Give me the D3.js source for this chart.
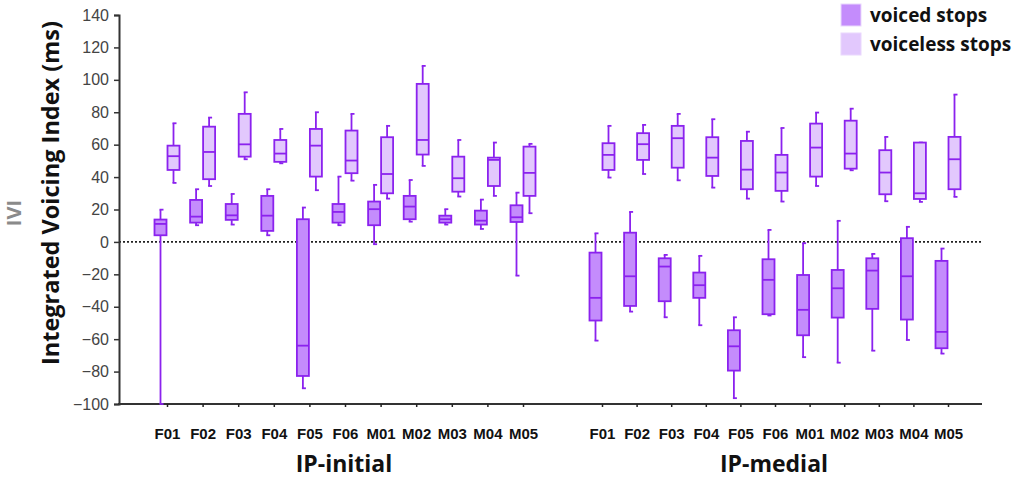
<!DOCTYPE html>
<html>
<head>
<meta charset="utf-8">
<script src="https://cdn.jsdelivr.net/npm/d3@7"></script>
<style>
    body { margin: 0; background: #fff; }
    svg { display: block; }
</style>
</head>
<body>
<svg id="chart" width="1019" height="480"></svg>
<script>
// speakers (same order in both groups)
const speakers = ["F01", "F02", "F03", "F04", "F05", "F06", "M01", "M02", "M03", "M04", "M05"];
const yTicks = [-100, -80, -60, -40, -20, 0, 20, 40, 60, 80, 100, 120, 140];

// [whisker low, q1, median, q3, whisker high] in ms
const initialVoiced = [
    [-100, 4.1, 11.1, 13.8, 19.9],
    [10.3, 11.9, 15.6, 25.9, 32.5],
    [10.7, 13.6, 16.4, 23.4, 29.6],
    [4.1, 6.8, 16.2, 28.4, 32.5],
    [-90.3, -82.7, -64, 14, 21.2],
    [10.3, 11.9, 18.5, 23.4, 40.3],
    [-1.4, 10.3, 20.2, 24.9, 35.2],
    [12.5, 14, 21.8, 28.4, 38.2],
    [10.7, 11.9, 14, 16.2, 20.2],
    [8, 10.7, 13.1, 19.3, 26.1],
    [-20.8, 12.3, 15.2, 22.6, 30.4]
];
const initialVoiceless = [
    [36.4, 44.4, 52.9, 59.4, 73.2],
    [34.5, 38.7, 55.5, 71.1, 76.7],
    [51, 52.6, 60.2, 79, 92.3],
    [48.5, 49.4, 54.5, 62.9, 69.7],
    [31.9, 40.3, 59.4, 69.7, 80],
    [37.8, 42.4, 50.2, 68.7, 79],
    [26.7, 30, 41.9, 64.6, 71.6],
    [46.9, 53.9, 62.9, 97.5, 108.6],
    [28, 31, 39.3, 52.6, 62.9],
    [28.4, 34.5, 50.6, 52, 61.3],
    [17.7, 28.4, 42.6, 58.8, 60.5]
];
const medialVoiced = [
    [-60.9, -48.5, -34.5, -6.6, 5.3],
    [-43, -39.5, -21.2, 5.7, 18.5],
    [-46.5, -36.6, -15.2, -10.1, -8],
    [-51.4, -34.5, -26.7, -18.9, -8.6],
    [-96.4, -79.4, -64.4, -54.5, -46.5],
    [-45.4, -44.6, -23.4, -10.7, 7.4],
    [-71.1, -57.6, -41.9, -20.4, -0.8],
    [-74.5, -46.7, -28.6, -17.3, 13],
    [-67.1, -41.3, -17.7, -10.1, -7.4],
    [-60.5, -47.9, -21.2, 2.3, 9.3],
    [-68.9, -65.6, -55.5, -11.7, -4.1]
];
const medialVoiceless = [
    [39.7, 44.4, 53.7, 60.9, 71.6],
    [41.9, 50.6, 60.3, 67.1, 72.2],
    [38, 45.8, 64, 71.6, 79],
    [33.5, 40.7, 52, 64.6, 75.7],
    [26.7, 32.5, 44.6, 62.3, 68],
    [24.9, 31.5, 42.8, 53.7, 70.3],
    [34.5, 40.3, 58.2, 73, 79.8],
    [44.2, 45.2, 54.5, 74.8, 82.2],
    [25.1, 29.4, 42.8, 56.6, 64.8],
    [24.7, 26.5, 30, 61.3, 61.3],
    [27.8, 32.5, 51, 64.8, 90.9]
];
const seriesNames = ["voiced stops", "voiceless stops"];
const groupNames = ["IP-initial", "IP-medial"];

const STROKE = "#8b22ee";
const FILLS = {"voiced stops": "#c48cfc", "voiceless stops": "#e2c8fd"};
const BOLD_FONT = "'Open Sans', sans-serif";
const TICK_FONT = "Arial, 'Liberation Sans', sans-serif";

const svg = d3.select("#chart");
const plotLeft = 119, plotRight = 982, plotTop = 15, plotBottom = 404;

const y = d3.scaleLinear().domain([-100, 140]).range([plotBottom, plotTop]);

const groups = [
    {name: groupNames[0], x: d3.scalePoint().domain(speakers).range([167, 523]), voiced: initialVoiced, voiceless: initialVoiceless},
    {name: groupNames[1], x: d3.scalePoint().domain(speakers).range([602, 948]), voiced: medialVoiced, voiceless: medialVoiceless}
];
// voiced box left of the tick, voiceless right of it
const sub = d3.scaleBand().domain(seriesNames).range([-13, 13]);

// zero reference line
svg.append("line")
    .attr("x1", plotLeft).attr("x2", plotRight)
    .attr("y1", y(0)).attr("y2", y(0))
    .attr("stroke", "#222")
    .attr("stroke-width", 1.6)
    .attr("stroke-dasharray", "2,2");

// y axis
const yAxis = svg.append("g")
    .attr("transform", `translate(${plotLeft},0)`)
    .call(d3.axisLeft(y).tickValues(yTicks).tickSize(5).tickPadding(5));
yAxis.select(".domain").attr("stroke", "#333").attr("stroke-width", 2);
yAxis.selectAll(".tick line").attr("stroke", "#333").attr("stroke-width", 1.5);
yAxis.selectAll(".tick text")
    .style("font-family", TICK_FONT)
    .style("font-size", "16px")
    .attr("fill", "#444");

// x baseline
svg.append("line")
    .attr("x1", plotLeft - 1).attr("x2", plotRight)
    .attr("y1", plotBottom).attr("y2", plotBottom)
    .attr("stroke", "#333")
    .attr("stroke-width", 2.2);

function drawBox(g, cx, w, stats, fill) {
    const [lo, q1, med, q3, hi] = stats;
    const mid = cx + w / 2;
    // whiskers
    [[lo, q1], [q3, hi]].forEach(([a, b]) => {
        g.append("line")
            .attr("x1", mid).attr("x2", mid)
            .attr("y1", y(a)).attr("y2", y(b))
            .attr("stroke", STROKE).attr("stroke-width", 1.8);
    });
    [lo, hi].forEach(v => {
        g.append("line")
            .attr("x1", mid - 1).attr("x2", mid + 3)
            .attr("y1", y(v)).attr("y2", y(v))
            .attr("stroke", STROKE).attr("stroke-width", 1.8);
    });
    g.append("rect")
        .attr("x", cx + 0.5).attr("width", w - 1)
        .attr("y", y(q3)).attr("height", y(q1) - y(q3))
        .attr("fill", fill)
        .attr("stroke", STROKE).attr("stroke-width", 1.8);
    g.append("line")
        .attr("x1", cx + 0.5).attr("x2", cx + w - 0.5)
        .attr("y1", y(med)).attr("y2", y(med))
        .attr("stroke", STROKE).attr("stroke-width", 1.8);
}

groups.forEach(grp => {
    const g = svg.append("g");
    speakers.forEach((s, i) => {
        const cx = grp.x(s);
        drawBox(g, cx + sub(seriesNames[0]), sub.bandwidth(), grp.voiced[i], FILLS[seriesNames[0]]);
        drawBox(g, cx + sub(seriesNames[1]), sub.bandwidth(), grp.voiceless[i], FILLS[seriesNames[1]]);
    });

    // x axis ticks + labels
    const xAxis = svg.append("g")
        .attr("transform", `translate(0,${plotBottom})`)
        .call(d3.axisBottom(grp.x).tickSize(3).tickPadding(21));
    xAxis.select(".domain").remove();
    xAxis.selectAll(".tick line").attr("stroke", "#222").attr("stroke-width", 1.5);
    xAxis.selectAll(".tick text")
        .style("font-family", TICK_FONT)
        .style("font-size", "15px")
        .style("font-weight", "bold")
        .attr("fill", "#111");

    const [r0, r1] = grp.x.range();
    svg.append("text")
        .attr("x", (r0 + r1) / 2 - 1)
        .attr("y", 472)
        .attr("text-anchor", "middle")
        .style("font-family", BOLD_FONT)
        .style("font-size", "23px")
        .style("font-weight", "bold")
        .attr("fill", "#111")
        .text(grp.name);
});

// y titles
svg.append("text")
    .attr("transform", `translate(59,193) rotate(-90)`)
    .attr("text-anchor", "middle")
    .style("font-family", BOLD_FONT)
    .style("font-size", "23.5px")
    .style("font-weight", "bold")
    .attr("fill", "#111")
    .text("Integrated Voicing Index (ms)");
svg.append("text")
    .attr("transform", `translate(21,213) rotate(-90)`)
    .attr("text-anchor", "middle")
    .style("font-family", BOLD_FONT)
    .style("font-size", "20px")
    .style("font-weight", "bold")
    .attr("fill", "#8a8a8a")
    .text("IVI");

// legend
const legend = svg.append("g").attr("transform", "translate(841,4)");
seriesNames.forEach((name, i) => {
    legend.append("rect")
        .attr("x", 0).attr("y", i * 29)
        .attr("width", 20).attr("height", 22)
        .attr("fill", FILLS[name])
        .attr("stroke", "#ead8fd").attr("stroke-width", 1);
    legend.append("text")
        .attr("x", 29).attr("y", i * 29 + 18)
        .style("font-family", BOLD_FONT)
        .style("font-size", "19px")
        .style("font-weight", "bold")
        .attr("fill", "#111")
        .text(name);
});
</script>
</body>
</html>
